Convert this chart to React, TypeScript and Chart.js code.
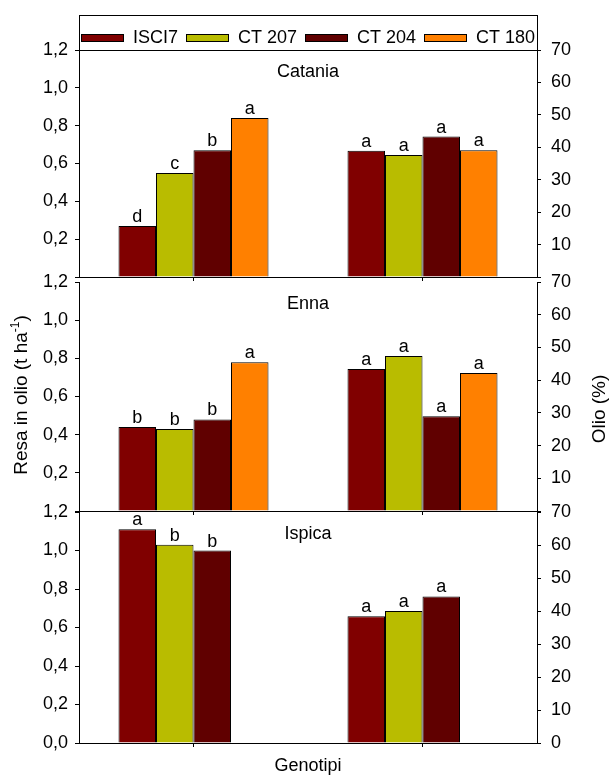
import React, { useEffect, useRef } from "react";
import { Chart, registerables } from "chart.js";

Chart.register(...registerables);

const FONT = "'Liberation Sans', Arial, Helvetica, sans-serif";
Chart.defaults.font.family = FONT;
Chart.defaults.font.size = 18;
Chart.defaults.color = "#000";

// ---- data ----
const genotypes = ["ISCI7", "CT 207", "CT 204", "CT 180"];
const colors = ["#800000", "#B9BC00", "#600000", "#FF8000"];
const groups = ["Resa in olio", "Olio"];
const sites = ["Catania", "Enna", "Ispica"];

const yieldCatania = [0.27, 0.55, 0.67, 0.84];
const oilCatania = [38.9, 37.6, 43.3, 39.1];
const yieldEnna = [0.44, 0.43, 0.48, 0.78];
const oilEnna = [43.4, 47.4, 29.0, 42.2];
const yieldIspica = [1.11, 1.03, 1.0, null];
const oilIspica = [38.4, 40.0, 44.4, null];

const lettersYieldCatania = ["d", "c", "b", "a"];
const lettersOilCatania = ["a", "a", "a", "a"];
const lettersYieldEnna = ["b", "b", "b", "a"];
const lettersOilEnna = ["a", "a", "a", "a"];
const lettersYieldIspica = ["a", "b", "b", ""];
const lettersOilIspica = ["a", "a", "a", ""];

const leftMin = 0;
const leftMax = 1.2;
const leftStep = 0.2;
const rightMin = 0;
const rightMax = 70;
const rightStep = 10;

const leftTitleMain = "Resa in olio (t ha";
const leftTitleSup = "-1";
const leftTitleEnd = ")";
const rightTitle = "Olio (%)";
const xTitle = "Genotipi";

// ---- layout ----
const W = 612;
const AXIS_LEFT_W = 79;
const AXIS_RIGHT_W = 75;

type Panel = {
  site: string;
  yieldValues: (number | null)[];
  oilValues: (number | null)[];
  yieldLetters: string[];
  oilLetters: string[];
  top: number;
  height: number;
  padTop: number;
  xHeight: number;
  showZero: boolean;
  legend?: boolean;
  axisTitles?: boolean;
  xAxisTitle?: boolean;
};

const panels: Panel[] = [
  {
    site: sites[0], yieldValues: yieldCatania, oilValues: oilCatania,
    yieldLetters: lettersYieldCatania, oilLetters: lettersOilCatania,
    top: 0, height: 299, padTop: 50, xHeight: 22, showZero: false, legend: true,
  },
  {
    site: sites[1], yieldValues: yieldEnna, oilValues: oilEnna,
    yieldLetters: lettersYieldEnna, oilLetters: lettersOilEnna,
    top: 260, height: 273, padTop: 22, xHeight: 22, showZero: false, axisTitles: true,
  },
  {
    site: sites[2], yieldValues: yieldIspica, oilValues: oilIspica,
    yieldLetters: lettersYieldIspica, oilLetters: lettersOilIspica,
    top: 490, height: 287, padTop: 22, xHeight: 34, showZero: true, xAxisTitle: true,
  },
];

function buildDatasets(p: Panel) {
  const ds: any[] = [];
  genotypes.forEach((g, k) => {
    ds.push({
      label: g, stack: g, yAxisID: "y",
      data: [p.yieldValues[k], null],
      letters: [p.yieldLetters[k], ""],
      backgroundColor: colors[k], borderColor: "#000", borderWidth: 1,
    });
    ds.push({
      label: g, stack: g, yAxisID: "y2",
      data: [null, p.oilValues[k]],
      letters: ["", p.oilLetters[k]],
      backgroundColor: colors[k], borderColor: "#000", borderWidth: 1,
    });
  });
  return ds;
}

const lettersPlugin = {
  id: "letters",
  afterDatasetsDraw(chart: any) {
    const ctx = chart.ctx;
    ctx.save();
    ctx.font = `18px ${FONT}`;
    ctx.fillStyle = "#000";
    ctx.textAlign = "center";
    ctx.textBaseline = "alphabetic";
    chart.data.datasets.forEach((ds: any, di: number) => {
      const meta = chart.getDatasetMeta(di);
      meta.data.forEach((el: any, i: number) => {
        const v = ds.data[i];
        const t = ds.letters ? ds.letters[i] : "";
        if (v === null || v === undefined || !t) return;
        ctx.fillText(t, el.x, el.y - 4);
      });
    });
    ctx.restore();
  },
};

function makeSitePlugin(p: Panel) {
  return {
    id: "siteTitle",
    afterDraw(chart: any) {
      const ctx = chart.ctx;
      const ca = chart.chartArea;
      ctx.save();
      ctx.font = `18px ${FONT}`;
      ctx.fillStyle = "#000";
      ctx.textAlign = "center";
      ctx.textBaseline = "alphabetic";
      ctx.fillText(p.site, (ca.left + ca.right) / 2, ca.top + 27);
      ctx.restore();
    },
  };
}

const legendPlugin = {
  id: "boxLegend",
  afterDraw(chart: any) {
    const ctx = chart.ctx;
    const ca = chart.chartArea;
    const boxTop = 15;
    ctx.save();
    ctx.strokeStyle = "#000";
    ctx.lineWidth = 1;
    ctx.strokeRect(Math.round(ca.left) + 0.5, boxTop + 0.5, Math.round(ca.right) - Math.round(ca.left), Math.round(ca.top) - boxTop);
    ctx.font = `18px ${FONT}`;
    const bw = 43, bh = 8, gapText = 9, gapItem = 8;
    const widths = genotypes.map((g) => ctx.measureText(g).width);
    const total = widths.reduce((a, b) => a + b, 0) + genotypes.length * (bw + gapText) + (genotypes.length - 1) * gapItem;
    let x = (ca.left + ca.right) / 2 - total / 2;
    const cy = 38;
    ctx.textBaseline = "middle";
    ctx.textAlign = "left";
    genotypes.forEach((g, k) => {
      ctx.fillStyle = colors[k];
      ctx.fillRect(Math.round(x), cy - bh / 2, bw, bh);
      ctx.strokeRect(Math.round(x) + 0.5, cy - bh / 2 + 0.5, bw - 1, bh - 1);
      ctx.fillStyle = "#000";
      ctx.fillText(g, x + bw + gapText, cy);
      x += bw + gapText + widths[k] + gapItem;
    });
    ctx.restore();
  },
};

function makeAxisTitlesPlugin(p: Panel) {
  return {
    id: "axisTitles",
    afterDraw(chart: any) {
      const ctx = chart.ctx;
      ctx.save();
      ctx.fillStyle = "#000";
      ctx.textBaseline = "middle";
      ctx.textAlign = "left";
      const mainFont = `19px ${FONT}`;
      const supFont = `12px ${FONT}`;
      ctx.font = mainFont;
      const w1 = ctx.measureText(leftTitleMain).width;
      const w3 = ctx.measureText(leftTitleEnd).width;
      ctx.font = supFont;
      const w2 = ctx.measureText(leftTitleSup).width;
      const tot = w1 + w2 + w3;
      ctx.save();
      ctx.translate(22, 395 - p.top);
      ctx.rotate(-Math.PI / 2);
      let x = -tot / 2;
      ctx.font = mainFont;
      ctx.fillText(leftTitleMain, x, 0);
      x += w1;
      ctx.font = supFont;
      ctx.fillText(leftTitleSup, x, -6);
      x += w2;
      ctx.font = mainFont;
      ctx.fillText(leftTitleEnd, x, 0);
      ctx.restore();
      ctx.save();
      ctx.translate(600, 409 - p.top);
      ctx.rotate(-Math.PI / 2);
      ctx.font = mainFont;
      ctx.textAlign = "center";
      ctx.fillText(rightTitle, 0, 0);
      ctx.restore();
      ctx.restore();
    },
  };
}

function buildConfig(p: Panel): any {
  const plugins: any[] = [lettersPlugin, makeSitePlugin(p)];
  if (p.legend) plugins.push(legendPlugin);
  if (p.axisTitles) plugins.push(makeAxisTitlesPlugin(p));
  const gridCommon = {
    drawOnChartArea: false,
    drawTicks: true,
    tickLength: 4,
    color: "#000",
    lineWidth: 1,
  };
  return {
    type: "bar",
    data: { labels: groups, datasets: buildDatasets(p) },
    plugins,
    options: {
      animation: false,
      responsive: false,
      devicePixelRatio: 1,
      layout: { padding: { top: p.padTop, left: 0, right: 0, bottom: 0 } },
      datasets: { bar: { categoryPercentage: 0.655, barPercentage: 1 } },
      plugins: {
        legend: { display: false },
        tooltip: { enabled: false },
        title: { display: false },
      },
      scales: {
        x: {
          type: "category",
          offset: true,
          grid: { ...gridCommon, offset: false },
          border: { display: true, color: "#000", width: 1 },
          ticks: { display: false },
          title: {
            display: !!p.xAxisTitle,
            text: xTitle,
            color: "#000",
            font: { size: 18 },
            padding: { top: 0, bottom: 0 },
          },
          afterFit: (s: any) => { s.height = p.xHeight; },
        },
        y: {
          position: "left",
          min: leftMin,
          max: leftMax,
          stacked: false,
          grid: gridCommon,
          border: { display: true, color: "#000", width: 1 },
          ticks: {
            stepSize: leftStep,
            padding: 7,
            color: "#000",
            font: { size: 18 },
            callback: (v: any) => {
              const n = Number(v);
              if (!p.showZero && Math.abs(n) < 1e-9) return "";
              return n.toFixed(1).replace(".", ",");
            },
          },
          afterFit: (s: any) => { s.width = AXIS_LEFT_W; },
        },
        y2: {
          position: "right",
          min: rightMin,
          max: rightMax,
          stacked: false,
          grid: gridCommon,
          border: { display: true, color: "#000", width: 1 },
          ticks: {
            stepSize: rightStep,
            padding: 10,
            color: "#000",
            font: { size: 18 },
            callback: (v: any) => {
              const n = Number(v);
              if (!p.showZero && Math.abs(n) < 1e-9) return "";
              return String(Math.round(n));
            },
          },
          afterFit: (s: any) => { s.width = AXIS_RIGHT_W; },
        },
      },
    },
  };
}

function PanelCanvas({ p }: { p: Panel }) {
  const ref = useRef<HTMLCanvasElement | null>(null);
  useEffect(() => {
    if (!ref.current) return;
    const chart = new Chart(ref.current, buildConfig(p));
    return () => chart.destroy();
  }, [p]);
  return (
    <canvas
      ref={ref}
      width={W}
      height={p.height}
      style={{ position: "absolute", left: 0, top: p.top, width: W, height: p.height, display: "block" }}
    />
  );
}

export default function App() {
  return (
    <div style={{ position: "absolute", left: 0, top: 0, width: W, height: 777, background: "#fff" }}>
      {panels.map((p, i) => (
        <PanelCanvas key={i} p={p} />
      ))}
    </div>
  );
}
